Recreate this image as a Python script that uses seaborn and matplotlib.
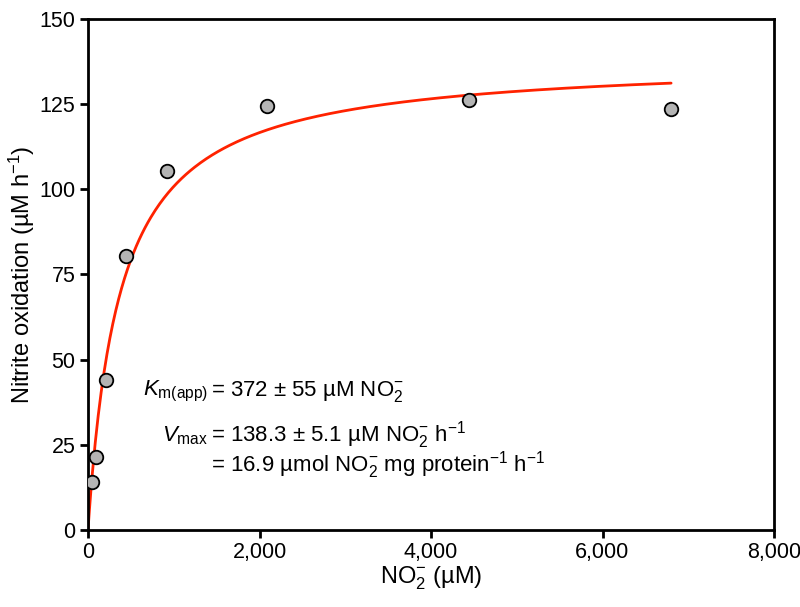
import numpy as np
import pandas as pd
import matplotlib
matplotlib.use("Agg")
import matplotlib.pyplot as plt
from matplotlib.ticker import FuncFormatter
import seaborn as sns

# Données
nitrite_uM = [47, 93, 210, 443, 921, 2086, 4441, 6795]
oxidation_rate = [14.1, 21.4, 44.0, 80.5, 105.3, 124.5, 126.1, 123.6]

# Paramètres de Michaelis-Menten affichés sur la figure
KM = 372
VMAX = 138.3
X_FIT_MAX = 6800

sns.set_theme(style="ticks")
plt.rcParams["font.family"] = ["Liberation Sans", "DejaVu Sans"]
plt.rcParams["mathtext.fontset"] = "custom"
plt.rcParams["mathtext.rm"] = "Liberation Sans"
plt.rcParams["mathtext.it"] = "Liberation Sans:italic"
plt.rcParams["mathtext.default"] = "regular"
plt.rcParams["text.color"] = "black"
plt.rcParams["axes.labelcolor"] = "black"
plt.rcParams["xtick.color"] = "black"
plt.rcParams["ytick.color"] = "black"

df = pd.DataFrame({"x": nitrite_uM, "y": oxidation_rate})
x_fit = np.linspace(0, X_FIT_MAX, 400)
fit = pd.DataFrame({"x": x_fit, "y": VMAX * x_fit / (KM + x_fit)})

fig = plt.figure(figsize=(8, 6.07), dpi=100)
ax = fig.add_axes([0.11, 0.127, 0.8575, 0.842])

sns.lineplot(data=fit, x="x", y="y", ax=ax, color="#ff2200", linewidth=2, zorder=2)
sns.scatterplot(data=df, x="x", y="y", ax=ax, s=95, color="#b4b4b4",
                edgecolor="black", linewidth=1.3, zorder=3)

ax.set_xlim(0, 8000)
ax.set_ylim(0, 150)
ax.set_xticks([0, 2000, 4000, 6000, 8000])
ax.set_yticks([0, 25, 50, 75, 100, 125, 150])
ax.xaxis.set_major_formatter(FuncFormatter(lambda v, p: f"{int(v):,}"))
ax.tick_params(labelsize=15.5, width=2, length=6, color="black", pad=3)
for sp in ax.spines.values():
    sp.set_linewidth(2)
    sp.set_color("black")

ax.set_xlabel(r"NO$_2^{-}$ (µM)", fontsize=17, labelpad=1)
ax.set_ylabel(r"Nitrite oxidation (µM h$^{-1}$)", fontsize=17, labelpad=2)

# Annotations
fs = 16
ax.text(0.175, 0.271, r"$\mathit{K}_{m(app)}$", transform=ax.transAxes,
        fontsize=fs, ha="right", va="center")
ax.text(0.18, 0.271, r"= 372 ± 55 µM NO$_2^{-}$", transform=ax.transAxes,
        fontsize=fs, ha="left", va="center")
ax.text(0.175, 0.185, r"$\mathit{V}_{max}$", transform=ax.transAxes,
        fontsize=fs, ha="right", va="center")
ax.text(0.18, 0.185, r"= 138.3 ± 5.1 µM NO$_2^{-}$ h$^{-1}$", transform=ax.transAxes,
        fontsize=fs, ha="left", va="center")
ax.text(0.18, 0.126, r"= 16.9 µmol NO$_2^{-}$ mg protein$^{-1}$ h$^{-1}$",
        transform=ax.transAxes, fontsize=fs, ha="left", va="center")

fig.savefig("out.png", dpi=100)
